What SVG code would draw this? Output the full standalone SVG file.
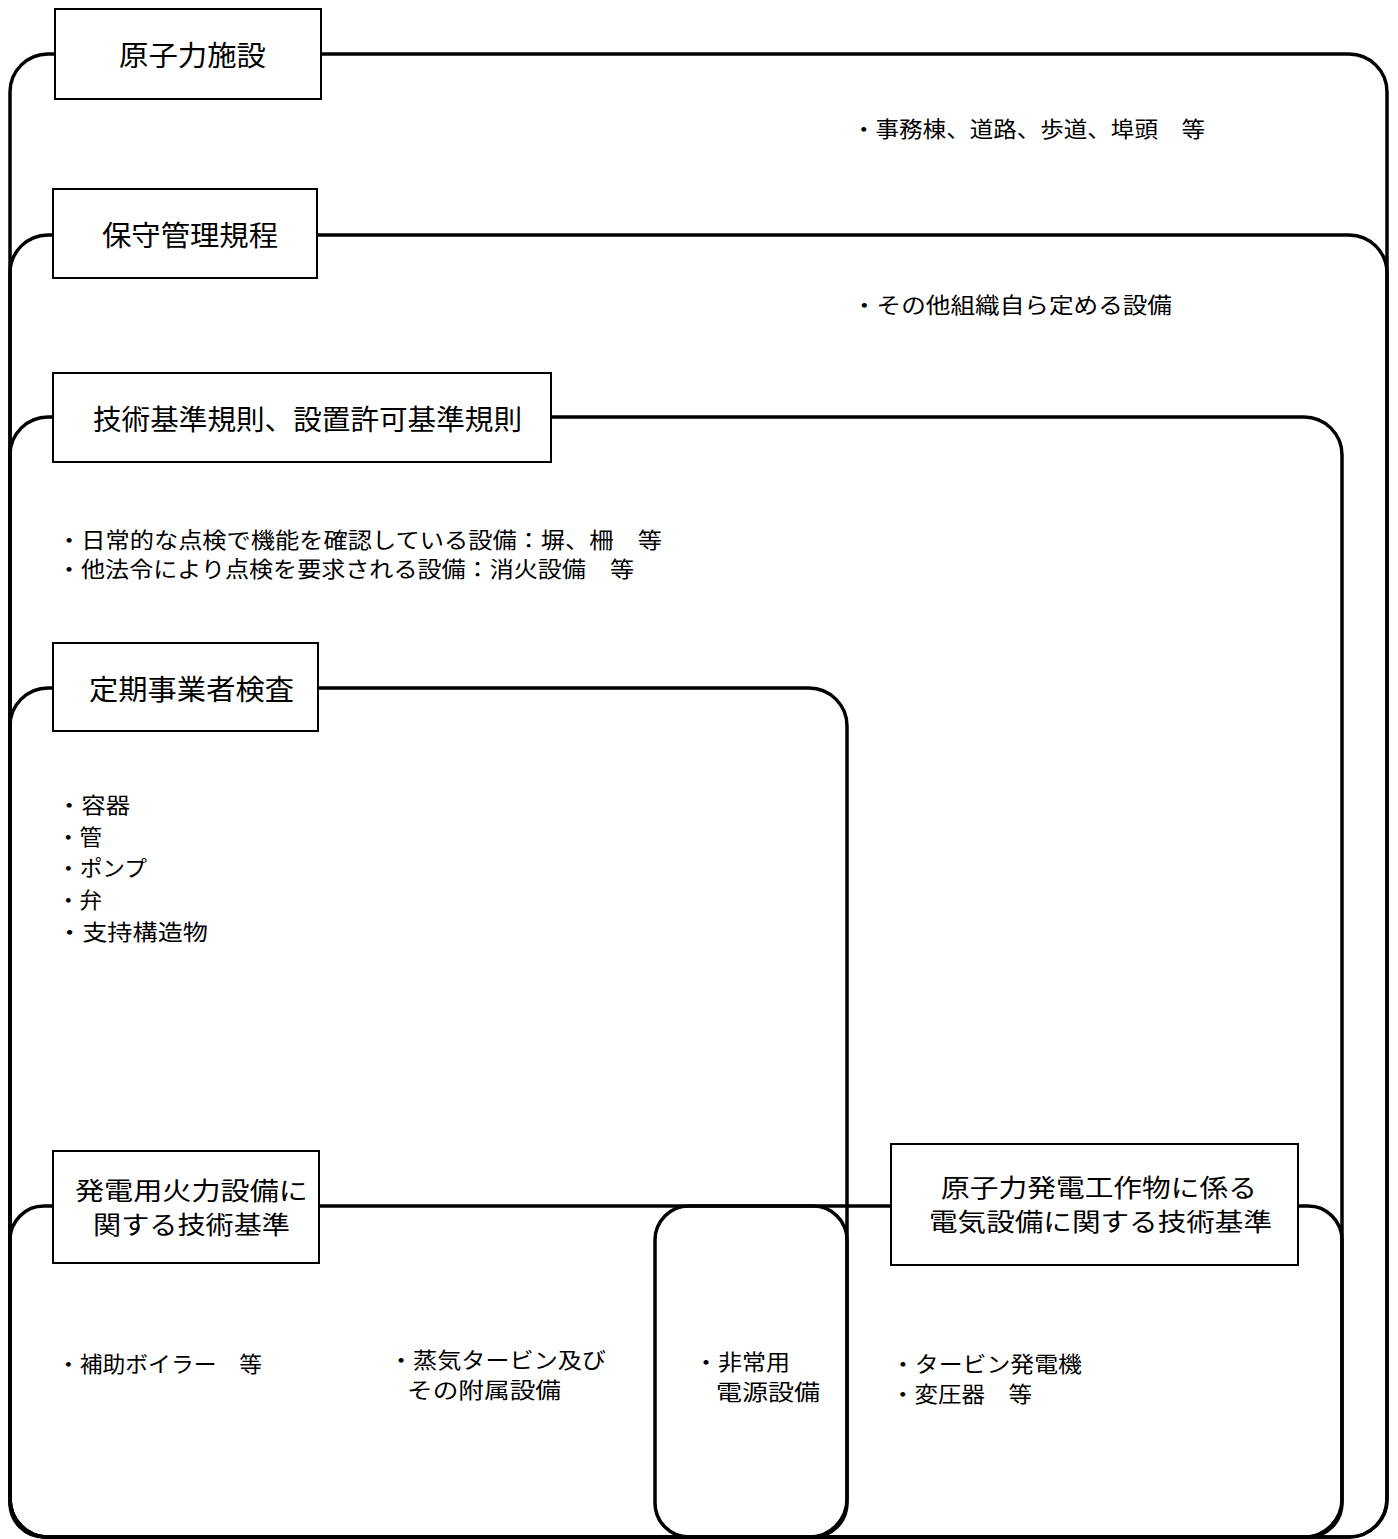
<svg xmlns="http://www.w3.org/2000/svg" width="1398" height="1539" viewBox="0 0 1398 1539">
<style>
.frame{fill:none;stroke:#000;stroke-width:3.5}
.box{fill:#fff;stroke:#000;stroke-width:2}
.lbl{font-family:"Noto Sans CJK JP","Noto Sans CJK SC",sans-serif;font-size:28px;fill:#000;dominant-baseline:central}
.lbl2{font-family:"Noto Sans CJK JP","Noto Sans CJK SC",sans-serif;font-size:25px;fill:#000;dominant-baseline:central}
.txt{font-family:"Noto Sans CJK JP","Noto Sans CJK SC",sans-serif;font-size:22px;fill:#000;dominant-baseline:central}
</style>
<rect width="1398" height="1539" fill="#fff"/>
<g id="connectors">
  <rect class="frame" x="10" y="54" width="1377" height="1483" rx="38" ry="38"/>
  <rect class="frame" x="10" y="235" width="1377" height="1302" rx="38" ry="38"/>
  <rect class="frame" x="10" y="417" width="1332" height="1120" rx="38" ry="38"/>
  <rect class="frame" x="10" y="688" width="837" height="849" rx="38" ry="38"/>
  <rect class="frame" x="10" y="1206" width="837" height="331" rx="34" ry="34"/>
  <rect class="frame" x="655" y="1206" width="687" height="331" rx="34" ry="34"/>
</g>
<g id="node-genshiryoku">
  <rect class="box" x="55" y="9" width="266" height="90"/>
  <text class="lbl" x="119" y="54" textLength="147" lengthAdjust="spacingAndGlyphs">原子力施設</text>
  <text class="txt" x="852" y="127" textLength="353" lengthAdjust="spacingAndGlyphs">・事務棟、道路、歩道、埠頭　等</text>
</g>
<g id="node-hoshu">
  <rect class="box" x="53" y="189" width="264" height="89"/>
  <text class="lbl" x="102" y="234" textLength="176" lengthAdjust="spacingAndGlyphs">保守管理規程</text>
  <text class="txt" x="852" y="303" textLength="320" lengthAdjust="spacingAndGlyphs">・その他組織自ら定める設備</text>
</g>
<g id="node-gijutsu">
  <rect class="box" x="53" y="373" width="498" height="89"/>
  <text class="lbl" x="93" y="418" textLength="429" lengthAdjust="spacingAndGlyphs">技術基準規則、設置許可基準規則</text>
  <text class="txt" x="57" y="538" textLength="605" lengthAdjust="spacingAndGlyphs">・日常的な点検で機能を確認している設備：塀、柵　等</text>
  <text class="txt" x="57" y="567" textLength="577" lengthAdjust="spacingAndGlyphs">・他法令により点検を要求される設備：消火設備　等</text>
</g>
<g id="node-teiki">
  <rect class="box" x="53" y="643" width="265" height="88"/>
  <text class="lbl" x="89" y="688" textLength="205" lengthAdjust="spacingAndGlyphs">定期事業者検査</text>
  <text class="txt" x="57" y="803" textLength="73" lengthAdjust="spacingAndGlyphs">・容器</text>
  <text class="txt" x="57" y="835" textLength="45" lengthAdjust="spacingAndGlyphs">・管</text>
  <text class="txt" x="57" y="866" textLength="90" lengthAdjust="spacingAndGlyphs">・ポンプ</text>
  <text class="txt" x="57" y="898" textLength="45" lengthAdjust="spacingAndGlyphs">・弁</text>
  <text class="txt" x="57" y="930" textLength="151" lengthAdjust="spacingAndGlyphs">・支持構造物</text>
</g>
<g id="node-karyoku">
  <rect class="box" x="53" y="1151" width="266" height="112"/>
  <text class="lbl2" x="75" y="1189" textLength="233" lengthAdjust="spacingAndGlyphs">発電用火力設備に</text>
  <text class="lbl2" x="93" y="1223" textLength="197" lengthAdjust="spacingAndGlyphs">関する技術基準</text>
  <text class="txt" x="57" y="1362" textLength="205" lengthAdjust="spacingAndGlyphs">・補助ボイラー　等</text>
  <text class="txt" x="389" y="1358" textLength="217" lengthAdjust="spacingAndGlyphs">・蒸気タービン及び</text>
  <text class="txt" x="407" y="1388" textLength="154" lengthAdjust="spacingAndGlyphs">その附属設備</text>
</g>
<g id="node-hijoyo">
  <text class="txt" x="694" y="1360" textLength="96" lengthAdjust="spacingAndGlyphs">・非常用</text>
  <text class="txt" x="716" y="1390" textLength="104" lengthAdjust="spacingAndGlyphs">電源設備</text>
</g>
<g id="node-denki">
  <rect class="box" x="891" y="1144" width="407" height="121"/>
  <text class="lbl2" x="941" y="1186" textLength="316" lengthAdjust="spacingAndGlyphs">原子力発電工作物に係る</text>
  <text class="lbl2" x="929" y="1220" textLength="343" lengthAdjust="spacingAndGlyphs">電気設備に関する技術基準</text>
  <text class="txt" x="891" y="1362" textLength="191" lengthAdjust="spacingAndGlyphs">・タービン発電機</text>
  <text class="txt" x="891" y="1392" textLength="141" lengthAdjust="spacingAndGlyphs">・変圧器　等</text>
</g>
</svg>
